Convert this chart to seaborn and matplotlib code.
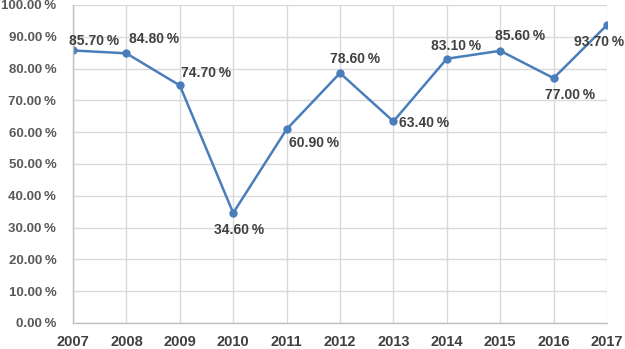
import matplotlib.pyplot as plt
import matplotlib.ticker as mticker
import numpy as np
import pandas as pd
import seaborn as sns

# Data
years = [2007, 2008, 2009, 2010, 2011, 2012, 2013, 2014, 2015, 2016, 2017]
rates = [85.7, 84.8, 74.7, 34.6, 60.9, 78.6, 63.4, 83.1, 85.6, 77.0, 93.7]

# Label offsets in points (dx, dy) relative to each marker
label_offsets = [(15, 7), (20, 10), (19, 9), (4, -12), (20, -10), (11, 10),
                 (22, -1), (7, 9), (14, 11), (12, -12), (-6, -12)]

df = pd.DataFrame({'year': years, 'rate': rates})

sns.set_style('white')
plt.rcParams['font.family'] = ['Liberation Sans', 'DejaVu Sans']

fig, ax = plt.subplots(figsize=(6.25, 3.49), dpi=100)
fig.subplots_adjust(left=0.1168, right=0.9712, bottom=0.0745, top=0.9857)

sns.lineplot(data=df, x='year', y='rate', ax=ax, color='#4a7ebb', linewidth=1.8,
             marker='o', markersize=6, markeredgewidth=0)

for x, y, (dx, dy) in zip(years, rates, label_offsets):
    ax.annotate(f'{y:.2f}\u2009%', (x, y), xytext=(dx, dy), textcoords='offset points',
                ha='center', va='center', fontsize=10, fontweight='bold', color='#404040')

ax.set_xlim(2007, 2017)
ax.set_ylim(0, 100)
ax.set_xticks(years)
ax.set_yticks(np.arange(0, 101, 10))
ax.yaxis.set_major_formatter(mticker.FuncFormatter(lambda v, p: f'{v:.2f}\u2009%'))
ax.grid(True, color='#d9d9d9', linewidth=1)
ax.set_axisbelow(True)
ax.set_xlabel('')
ax.set_ylabel('')

for side in ['top', 'right']:
    ax.spines[side].set_visible(False)
for side in ['left', 'bottom']:
    ax.spines[side].set_color('#bfbfbf')
    ax.spines[side].set_linewidth(1)

ax.tick_params(axis='both', length=0)
ax.tick_params(axis='y', pad=12, labelsize=9.5, labelcolor='#595959')
ax.tick_params(axis='x', pad=9, labelsize=10.5, labelcolor='#404040')
for lbl in ax.get_xticklabels() + ax.get_yticklabels():
    lbl.set_fontweight('bold')

fig.savefig('out.png', dpi=100)
